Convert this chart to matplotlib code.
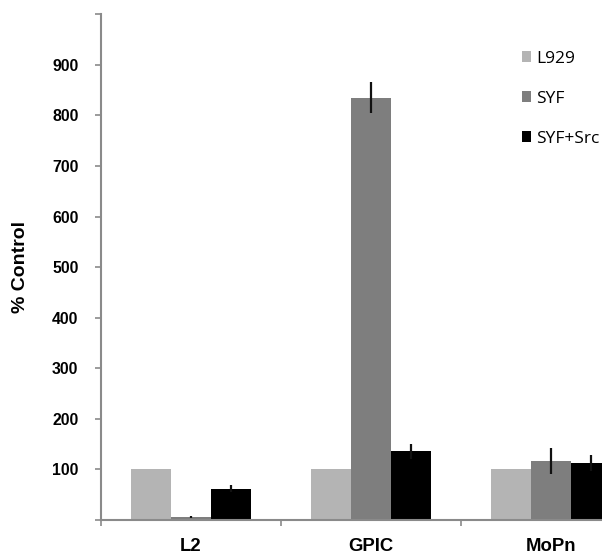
import matplotlib
matplotlib.use("Agg")
import matplotlib.pyplot as plt
import numpy as np

categories = ["L2", "GPIC", "MoPn"]
series_names = ["L929", "SYF", "SYF+Src"]
l929 = [100, 100, 100]
syf = [5, 835, 117]
syf_src = [62, 136, 112]
l929_err = [0, 0, 0]
syf_err = [2, 31, 26]
syf_src_err = [7, 15, 16]
ytick_vals = list(range(0, 1001, 100))
ytick_labels = ["", "100", "200", "300", "400", "500", "600", "700", "800", "900", ""]

colors = ["#b4b4b4", "#7e7e7e", "#000000"]
W, H = 602, 554
fig = plt.figure(figsize=(W / 100, H / 100), dpi=100)
ax_left, ax_bottom, ax_top, ax_w = 100.7, 520, 14.3, 540
ax = fig.add_axes([ax_left / W, (H - ax_bottom) / H, ax_w / W, (ax_bottom - ax_top) / H])

x = np.arange(len(categories))
bw = 40 / 180
all_vals = [l929, syf, syf_src]
all_err = [l929_err, syf_err, syf_src_err]
handles = []
for i, (vals, errs) in enumerate(zip(all_vals, all_err)):
    b = ax.bar(x + (i - 1) * bw, vals, width=bw, color=colors[i], label=series_names[i],
               yerr=errs, error_kw=dict(ecolor="#111111", elinewidth=1.6, capsize=0), zorder=2)
    handles.append(b)

ax.set_xlim(-0.5, len(categories) - 0.5)
ax.set_ylim(0, 1000)
axis_color = "#8a8a8a"
for s in ["top", "right"]:
    ax.spines[s].set_visible(False)
for s in ["left", "bottom"]:
    ax.spines[s].set_color(axis_color)
    ax.spines[s].set_linewidth(1.5)

ax.set_yticks(ytick_vals)
ax.set_yticklabels(ytick_labels, fontsize=11.4, fontweight="bold", family="Liberation Sans")
ax.tick_params(axis="y", length=4, width=1.2, color=axis_color, pad=12)

ax.set_xticks(x)
ax.set_xticklabels(categories, fontsize=13.3, fontweight="bold", family="Liberation Sans")
ax.set_xticks(np.arange(-0.5, len(categories) + 0.5, 1), minor=True)
ax.tick_params(axis="x", which="major", length=0, pad=13)
ax.tick_params(axis="x", which="minor", length=4, width=1.2, color=axis_color)

ax.set_ylabel("% Control", fontsize=14, fontweight="bold", family="Liberation Sans")
ax.yaxis.set_label_coords((29 - ax_left) / ax_w, 0.5)

leg = fig.legend(handles=handles, labels=series_names, loc="upper left",
                 bbox_to_anchor=(513 / W, 1 - 42 / H), bbox_transform=fig.transFigure,
                 frameon=False, handlelength=0.55, handleheight=0.55, handletextpad=0.3,
                 labelspacing=1.38, borderpad=0,
                 prop=dict(family="Open Sans", size=12.5))

fig.savefig("out.png", dpi=100)
